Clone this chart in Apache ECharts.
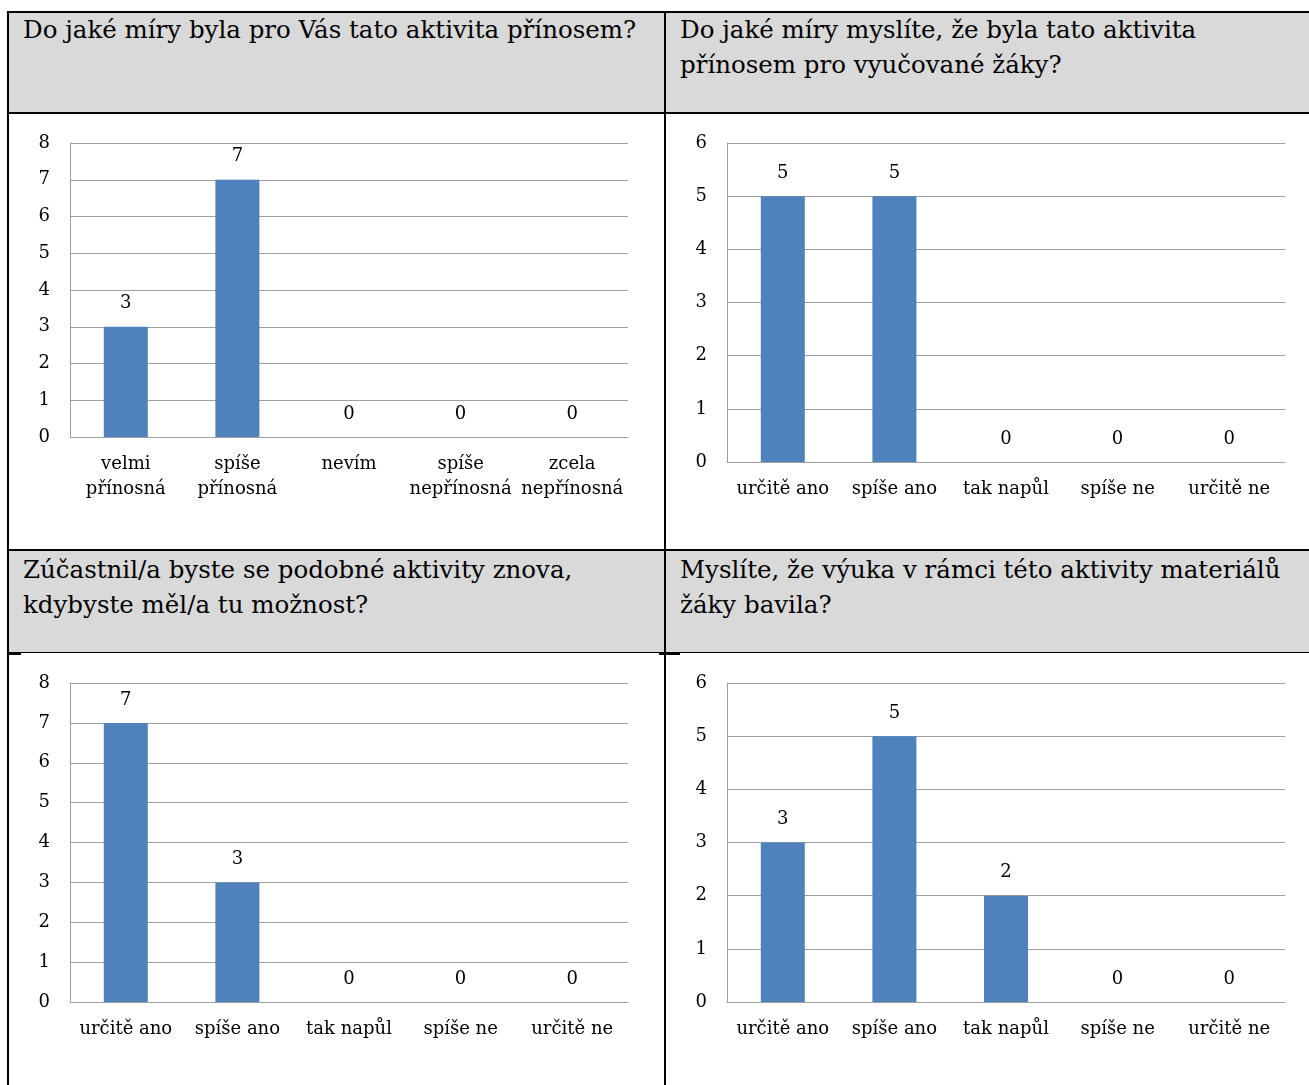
<!DOCTYPE html>
<html lang="cs">
<head>
<meta charset="utf-8">
<title>Hodnocení aktivity</title>
<script src="https://cdn.jsdelivr.net/npm/echarts@6/dist/echarts.min.js"></script>
<style>
  html, body { margin: 0; padding: 0; background: #ffffff; }
  body { width: 1309px; height: 1085px; position: relative; overflow: hidden; font-family: "DejaVu Serif", serif; }
  .band { position: absolute; background: #d9d9d9; }
  .rule { position: absolute; background: #000000; }
  .head { position: absolute; font-size: 24.5px; line-height: 35px; color: #000; white-space: nowrap; }
  #chart { position: absolute; left: 0; top: 0; width: 1309px; height: 1085px; }
</style>
</head>
<body>
<!-- header bands -->
<div class="band" style="left:8px; top:12px; width:1301px; height:101px;"></div>
<div class="band" style="left:8px; top:551px; width:1301px; height:102px;"></div>

<!-- table rules -->
<div class="rule" style="left:7px; top:11px; width:1302px; height:2px;"></div>
<div class="rule" style="left:7px; top:112px; width:1302px; height:2px;"></div>
<div class="rule" style="left:7px; top:549px; width:1302px; height:2px;"></div>
<div class="rule" style="left:7px; top:652px; width:1302px; height:1px;"></div>
<div class="rule" style="left:8px; top:653px; width:13px; height:2px;"></div>
<div class="rule" style="left:659px; top:653px; width:21px; height:2px;"></div>
<div class="rule" style="left:7px; top:11px; width:2px; height:1074px;"></div>
<div class="rule" style="left:664px; top:11px; width:2px; height:1074px;"></div>

<div id="h1" class="head" style="left:23px; top:12px;"></div>
<div id="h2" class="head" style="left:680px; top:12px;"></div>
<div id="h3" class="head" style="left:23px; top:552px;"></div>
<div id="h4" class="head" style="left:680px; top:552px;"></div>

<div id="chart"></div>

<script>
// Questions shown in the grey header cells
const questions = [
  'Do jaké míry byla pro Vás tato aktivita přínosem?',
  'Do jaké míry myslíte, že byla tato aktivita\npřínosem pro vyučované žáky?',
  'Zúčastnil/a byste se podobné aktivity znova,\nkdybyste měl/a tu možnost?',
  'Myslíte, že výuka v rámci této aktivity materiálů\nžáky bavila?'
];

// Answer categories
const benefitCategories = ['velmi\npřínosná', 'spíše\npřínosná', 'nevím', 'spíše\nnepřínosná', 'zcela\nnepřínosná'];
const agreeCategories = ['určitě ano', 'spíše ano', 'tak napůl', 'spíše ne', 'určitě ne'];

// Response counts
const benefitForTeacher = [3, 7, 0, 0, 0];
const benefitForPupils = [5, 5, 0, 0, 0];
const wouldTakePartAgain = [7, 3, 0, 0, 0];
const pupilsEnjoyed = [3, 5, 2, 0, 0];

// Value axis ranges
const axisMax = [8, 6, 8, 6];

questions.forEach((q, i) => {
  const el = document.getElementById('h' + (i + 1));
  q.split('\n').forEach((line, j) => {
    if (j) el.appendChild(document.createElement('br'));
    el.appendChild(document.createTextNode(line));
  });
});

const FONT = '"DejaVu Serif", serif';
const BAR = '#4f81bd';
const GRIDLINE = '#a0a0a0';

const panels = [
  { grid: { left: 70, top: 143, width: 558, height: 294 }, cats: benefitCategories, vals: benefitForTeacher, max: axisMax[0] },
  { grid: { left: 727, top: 143, width: 558, height: 319 }, cats: agreeCategories, vals: benefitForPupils, max: axisMax[1] },
  { grid: { left: 70, top: 683, width: 558, height: 319 }, cats: agreeCategories, vals: wouldTakePartAgain, max: axisMax[2] },
  { grid: { left: 727, top: 683, width: 558, height: 319 }, cats: agreeCategories, vals: pupilsEnjoyed, max: axisMax[3] }
];

const chart = echarts.init(document.getElementById('chart'), null, { renderer: 'canvas' });

chart.setOption({
  animation: false,
  backgroundColor: 'transparent',
  textStyle: { fontFamily: FONT },
  grid: panels.map(p => Object.assign({ containLabel: false }, p.grid)),
  xAxis: panels.map((p, i) => ({
    type: 'category',
    gridIndex: i,
    data: p.cats,
    axisLine: { show: true, lineStyle: { color: GRIDLINE, width: 1 } },
    axisTick: { show: false },
    axisLabel: { color: '#000', fontFamily: FONT, fontSize: 18, lineHeight: 25, margin: 15, interval: 0 }
  })),
  yAxis: panels.map((p, i) => ({
    type: 'value',
    gridIndex: i,
    min: 0,
    max: p.max,
    interval: 1,
    axisLine: { show: true, lineStyle: { color: GRIDLINE, width: 1 } },
    axisTick: { show: false },
    splitLine: { show: true, lineStyle: { color: GRIDLINE, width: 1 } },
    axisLabel: { color: '#000', fontFamily: FONT, fontSize: 18, margin: 20 }
  })),
  series: panels.map((p, i) => ({
    type: 'bar',
    xAxisIndex: i,
    yAxisIndex: i,
    data: p.vals,
    barWidth: 44,
    itemStyle: { color: BAR },
    label: { show: true, position: 'top', distance: 14, color: '#000', fontFamily: FONT, fontSize: 18 }
  }))
});
</script>
</body>
</html>
